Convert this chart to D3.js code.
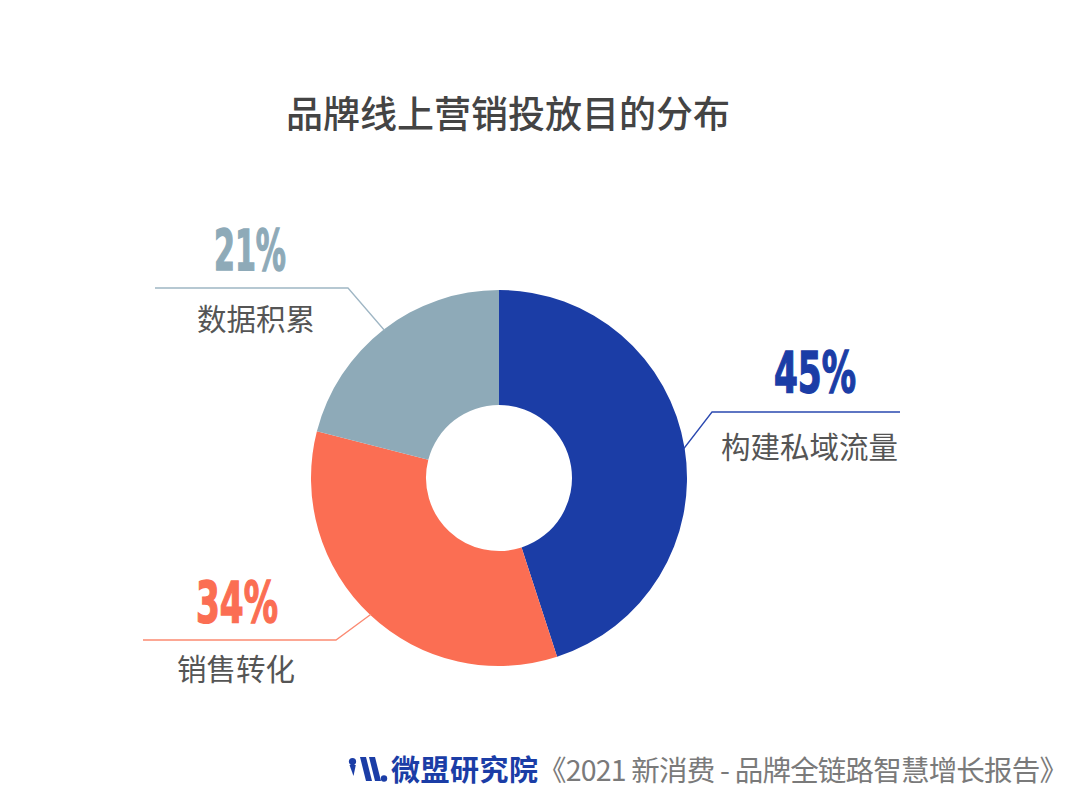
<!DOCTYPE html>
<html>
<head>
<meta charset="utf-8">
<script src="https://cdn.jsdelivr.net/npm/d3@7"></script>
<style>
  html, body { margin: 0; padding: 0; background: #ffffff; }
  svg { display: block; }
</style>
</head>
<body>
<svg id="chart" width="1080" height="811"></svg>
<script>
// ---- data ----
const title = "品牌线上营销投放目的分布";
const categories = ["构建私域流量", "销售转化", "数据积累"];
const values = [45, 34, 21];
const pctLabels = ["45%", "34%", "21%"];
const sliceColors = ["#1b3da6", "#fb6e53", "#8eaab8"];
const lineColors = ["#2a48b0", "#fb8a72", "#9fb6c4"];
const sourceBrand = "微盟研究院";
const sourceTitle = "《2021 新消费 - 品牌全链路智慧增长报告》";

// ---- layout (positions only) ----
const W = 1080, H = 811;
const cx = 499, cy = 478, rOuter = 188, rInner = 73;
const layout = [
  { elbowX: 712, lineY: 412, endX: 900, labelX: 721, labelY: 458, pctX: 815, pctY: 393, pctW: 82 },
  { elbowX: 336, lineY: 640, endX: 143, labelX: 177, labelY: 680, pctX: 237, pctY: 623, pctW: 82 },
  { elbowX: 348, lineY: 288, endX: 155, labelX: 197, labelY: 330, pctX: 250, pctY: 271, pctW: 72 }
];

const svg = d3.select("#chart");
svg.append("rect").attr("width", W).attr("height", H).attr("fill", "#ffffff");

// title
svg.append("text")
  .attr("x", 508).attr("y", 128)
  .attr("text-anchor", "middle")
  .attr("font-family", "'Noto Sans CJK SC', 'Noto Sans', sans-serif")
  .attr("font-size", 37)
  .attr("font-weight", 500)
  .attr("fill", "#444444")
  .text(title);

// donut
const pie = d3.pie().sort(null).value(d => d).startAngle(0).endAngle(2 * Math.PI);
const arcs = pie(values);
const arc = d3.arc().innerRadius(rInner).outerRadius(rOuter);

const g = svg.append("g").attr("transform", `translate(${cx},${cy})`);
g.selectAll("path.slice")
  .data(arcs)
  .join("path")
  .attr("class", "slice")
  .attr("d", arc)
  .attr("fill", (d, i) => sliceColors[i]);

// leader lines and labels
const ann = svg.append("g");
arcs.forEach((d, i) => {
  const L = layout[i];
  const mid = (d.startAngle + d.endAngle) / 2;
  const sx = cx + Math.sin(mid) * (rOuter - 1);
  const sy = cy - Math.cos(mid) * (rOuter - 1);
  ann.append("polyline")
    .attr("points", `${sx},${sy} ${L.elbowX},${L.lineY} ${L.endX},${L.lineY}`)
    .attr("fill", "none")
    .attr("stroke", lineColors[i])
    .attr("stroke-width", 1.3);

  ann.append("text")
    .attr("x", L.labelX).attr("y", L.labelY)
    .attr("font-family", "'Noto Sans CJK SC', 'Noto Sans', sans-serif")
    .attr("font-size", 29.5)
    .attr("fill", "#555555")
    .text(categories[i]);

  ann.append("text")
    .attr("x", L.pctX - L.pctW / 2).attr("y", L.pctY)
    .attr("font-family", "'Liberation Sans Narrow', 'DejaVu Sans Condensed', 'Arial Narrow', sans-serif")
    .attr("font-size", 57)
    .attr("font-weight", 700)
    .attr("textLength", L.pctW)
    .attr("lengthAdjust", "spacingAndGlyphs")
    .attr("fill", sliceColors[i])
    .attr("stroke", sliceColors[i])
    .attr("stroke-width", 1.4)
    .text(pctLabels[i]);
});

// footer: logo
const logo = svg.append("g").attr("fill", "#1b3da6");
logo.append("circle").attr("cx", 352.5).attr("cy", 761.5).attr("r", 3.6);
logo.append("path").attr("d", "M349.5,765 L355.8,765 L353.5,776 Z");
logo.append("path").attr("d", "M360,757 L366,757 L372,781 L366,781 Z");
logo.append("path").attr("d", "M369,757 L375,757 L381,781 L375,781 Z");
logo.append("circle").attr("cx", 384).attr("cy", 778.5).attr("r", 3.2);

// footer: text
svg.append("text")
  .attr("x", 391).attr("y", 781)
  .attr("font-family", "'Noto Sans CJK SC', 'Noto Sans', sans-serif")
  .attr("font-size", 29)
  .attr("font-weight", 700)
  .attr("fill", "#1b3da6")
  .attr("textLength", 147)
  .attr("lengthAdjust", "spacing")
  .text(sourceBrand);

svg.append("text")
  .attr("x", 538).attr("y", 781)
  .attr("font-family", "'Noto Sans CJK SC', 'Noto Sans', sans-serif")
  .attr("font-size", 28.5)
  .attr("fill", "#7a7a7a")
  .attr("textLength", 530)
  .attr("lengthAdjust", "spacing")
  .text(sourceTitle);
</script>
</body>
</html>
